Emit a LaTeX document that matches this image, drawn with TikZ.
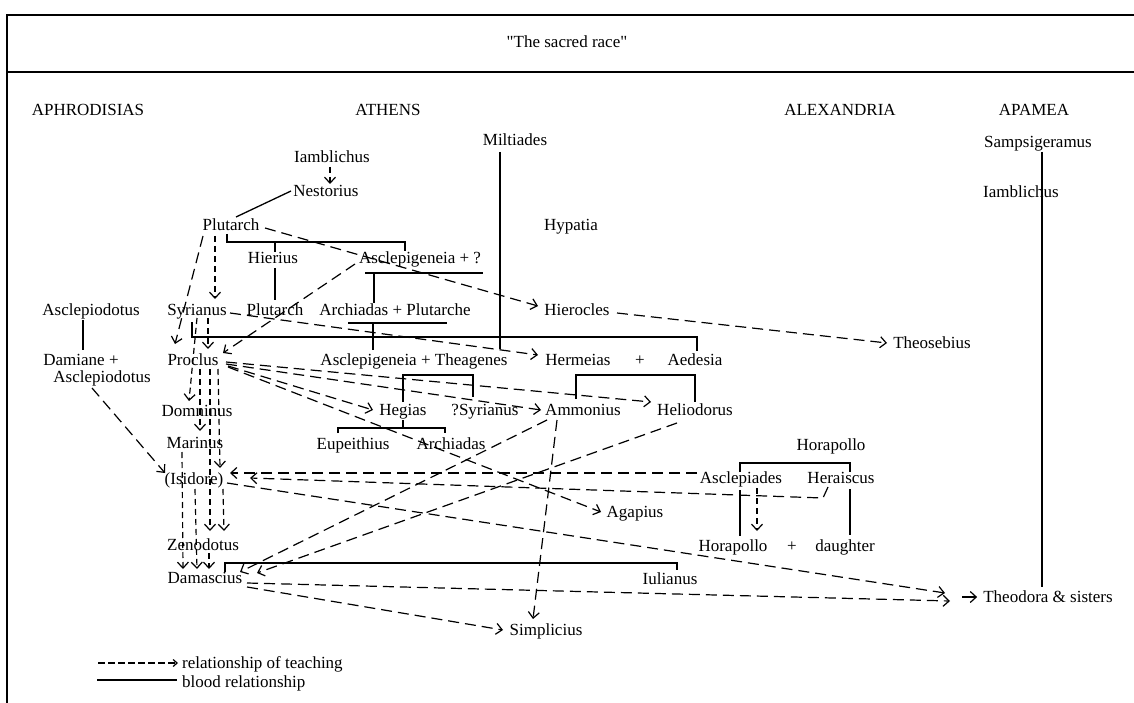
\documentclass[tikz,border=0pt]{standalone}
\usepackage{fontspec}
\setmainfont{Liberation Serif}
\usetikzlibrary{arrows.meta,calc}
\begin{document}
\begin{tikzpicture}[x=1pt,y=-1pt,
  lbl/.style={inner sep=0pt, text height=11.5pt, text depth=0pt, font=\fontsize{17}{20}\selectfont},
  blood/.style={line width=1.3pt},
  teach/.style={line width=1.2pt, dash pattern=on 11pt off 6pt, -{Straight Barb[length=6pt,width=11pt]}},
  teachv/.style={teach, dash pattern=on 6pt off 4pt},
  framel/.style={line width=1.3pt}]
\useasboundingbox (0,0) rectangle (1134,703);
% frame
\draw[framel] (7,703) -- (7,15) -- (1134,15);
\draw[framel] (7,72) -- (1134,72);
\node[lbl] (title) at (567,42) {\textquotedbl The sacred race\textquotedbl};
% headers
\node[lbl] (aphro) at (88,110) {APHRODISIAS};
\node[lbl] (athens) at (388,110) {ATHENS};
\node[lbl] (alex) at (840,110) {ALEXANDRIA};
\node[lbl] (apamea) at (1034,110) {APAMEA};
% nodes
\node[lbl] (miltiades) at (515,140) {Miltiades};
\node[lbl] (sampsi) at (1038,142) {Sampsigeramus};
\node[lbl] (iambB) at (1021,192) {Iamblichus};
\node[lbl] (iambA) at (332,157) {Iamblichus};
\node[lbl] (nestor) at (326,191) {Nestorius};
\node[lbl] (plutA) at (231,225) {Plutarch};
\node[lbl] (hypatia) at (571,225) {Hypatia};
\node[lbl] (hierius) at (273,258) {Hierius};
\node[lbl] (asclq) at (420,258) {Asclepigeneia + ?};
\node[lbl] (syrianus) at (197,310) {Syrianus};
\node[lbl] (plutB) at (275,310) {Plutarch};
\node[lbl] (archiadas) at (395,310) {Archiadas + Plutarche};
\node[lbl] (hierocles) at (577,310) {Hierocles};
\node[lbl] (asclepA) at (91,310) {Asclepiodotus};
\node[lbl] (damiane) at (81,360) {Damiane +};
\node[lbl] (asclepB) at (102,377) {Asclepiodotus};
\node[lbl] (theosebius) at (932,343) {Theosebius};
\node[lbl] (proclus) at (193,360) {Proclus};
\node[lbl] (asclthea) at (414,360) {Asclepigeneia + Theagenes};
\node[lbl] (hermeias) at (578,360) {Hermeias};
\node[lbl] (plusA) at (640,360) {+};
\node[lbl] (aedesia) at (695,360) {Aedesia};
\node[lbl] (domninus) at (197,411) {Domninus};
\node[lbl] (hegias) at (403,410) {Hegias};
\node[lbl] (qsyrianus) at (485,410) {?Syrianus};
\node[lbl] (ammonius) at (583,410) {Ammonius};
\node[lbl] (heliodorus) at (695,410) {Heliodorus};
\node[lbl] (marinus) at (195,443) {Marinus};
\node[lbl] (eupeithius) at (353,444) {Eupeithius};
\node[lbl] (archiadasB) at (451,444) {Archiadas};
\node[lbl] (horapolloA) at (831,445) {Horapollo};
\node[lbl] (isidore) at (194,479) {(Isidore)};
\node[lbl] (asclepiades) at (741,478) {Asclepiades};
\node[lbl] (heraiscus) at (841,478) {Heraiscus};
\node[lbl] (agapius) at (635,512) {Agapius};
\node[lbl] (zenodotus) at (203,545) {Zenodotus};
\node[lbl] (horapolloB) at (733,546) {Horapollo};
\node[lbl] (plusB) at (792,546) {+};
\node[lbl] (daughter) at (845,546) {daughter};
\node[lbl] (damascius) at (205,578) {Damascius};
\node[lbl] (iulianus) at (670,579) {Iulianus};
\node[lbl] (theodora) at (1048,597) {Theodora \& sisters};
\node[lbl] (simplicius) at (546,630) {Simplicius};
\node[lbl,anchor=west] (legteach) at (182,663) {relationship of teaching};
\node[lbl,anchor=west] (legblood) at (182,682) {blood relationship};
% blood relationships
\draw[blood] ($(nestor)+(-35,0)$) -- ($(plutA)+(5,-8)$);
\draw[blood] ($(plutA)+(-4,9)$) -- ++(0,8) -| ($(asclq)+(-15,-7)$);
\draw[blood] ($(hierius)+(2,-6)$) -- ++(0,-10);
\draw[blood] ($(hierius)+(2,10)$) -- ($(plutB)+(0,-10)$);
\draw[blood] ($(asclq)+(-55,15)$) -- ($(asclq)+(63,15)$);
\draw[blood] ($(asclq)+(-46,15)$) -- ($(archiadas)+(-21,-7)$);
\draw[blood] ($(archiadas)+(-47,13)$) -- ($(archiadas)+(52,13)$);
\draw[blood] ($(archiadas)+(-22,13)$) -- ($(asclthea)+(-41,-10)$);
\draw[blood] ($(syrianus)+(-5,12)$) -- ++(0,15) -| ($(aedesia)+(2,-9)$);
\draw[blood] ($(miltiades)+(-15,12)$) -- ($(asclthea)+(86,-11)$);
\draw[blood] ($(hegias)+(0,-8)$) -- ++(0,-27) -| ($(qsyrianus)+(-12,-13)$);
\draw[blood] ($(hegias)+(0,10)$) -- ++(0,8);
\draw[blood] ($(eupeithius)+(-15,-11)$) -- ++(0,-5) -| ($(archiadasB)+(-6,-11)$);
\draw[blood] ($(ammonius)+(-7,-11)$) -- ++(0,-24) -| ($(heliodorus)+(0,-8)$);
\draw[blood] ($(damascius)+(20,-6)$) -- ++(0,-9) -| ($(iulianus)+(7,-9)$);
\draw[blood] ($(asclepiades)+(-1,-6)$) -- ++(0,-9) -| ($(heraiscus)+(9,-6)$);
\draw[blood] ($(asclepiades)+(-1,12)$) -- ($(horapolloB)+(7,-10)$);
\draw[blood] ($(heraiscus)+(9,11)$) -- ($(daughter)+(5,-11)$);
\draw[blood] ($(sampsi)+(4,10)$) -- ($(theodora)+(-6,-10)$);
\draw[blood] ($(asclepA)+(-8,10)$) -- ($(damiane)+(2,-10)$);
% teaching
\draw[teachv] ($(iambA)+(-2,10)$) -- ($(nestor)+(4,-7)$);
\draw[teach] ($(plutA)+(34,3)$) -- ($(hierocles)+(-39,-4)$);
\draw[teach] ($(plutA)+(-28,11)$) -- ($(proclus)+(-18,-16)$);
\draw[teachv] ($(plutA)+(-16,11)$) -- ($(syrianus)+(18,-11)$);
\draw[teach] ($(asclq)+(-65,6)$) -- ($(proclus)+(30,-7)$);
\draw[teachv] ($(syrianus)+(11,8)$) -- ($(proclus)+(15,-11)$);
\draw[teachv] ($(syrianus)+(0,8)$) -- ($(domninus)+(-8,-10)$);
\draw[teach] ($(syrianus)+(33,3)$) -- ($(hermeias)+(-40,-5)$);
\draw[teachv] ($(proclus)+(7,9)$) -- ($(marinus)+(5,-12)$);
\draw[teachv] ($(proclus)+(17,9)$) -- ($(zenodotus)+(7,-14)$);
\draw[teachv] ($(proclus)+(25,9)$) -- ($(isidore)+(26,-11)$);
\draw[teachv] ($(marinus)+(-13,9)$) -- ($(damascius)+(-22,-9)$);
\draw[teachv] ($(isidore)+(1,10)$) -- ($(damascius)+(-8,-9)$);
\draw[teachv] ($(isidore)+(29,10)$) -- ($(zenodotus)+(21,-14)$);
\draw[teachv] ($(zenodotus)+(6,8)$) -- ($(damascius)+(4,-9)$);
\draw[teach] ($(proclus)+(35,6)$) -- ($(hegias)+(-30,0)$);
\draw[teach] ($(proclus)+(33,4)$) -- ($(ammonius)+(-42,0)$);
\draw[teach] ($(proclus)+(33,2)$) -- ($(heliodorus)+(-44,-8)$);
\draw[teach] ($(proclus)+(35,7)$) -- ($(agapius)+(-34,0)$);
\draw[teach] ($(asclepB)+(-10,11)$) -- ($(isidore)+(-29,-6)$);
\draw[teach] ($(asclepiades)+(-44,-5)$) -- ($(isidore)+(36,-6)$);
\draw[teach] ($(heraiscus)+(-13,9)$) -- ++(-5,11) -- ($(isidore)+(56,-1)$);
\draw[teach] ($(isidore)+(33,4)$) -- ($(theodora)+(-103,-4)$);
\draw[teach] ($(damascius)+(42,5)$) -- ($(theodora)+(-98,4)$);
\draw[teach] ($(damascius)+(42,9)$) -- ($(simplicius)+(-43,0)$);
\draw[teach] ($(ammonius)+(-26,10)$) -- ($(simplicius)+(-13,-11)$);
\draw[teach] ($(ammonius)+(-36,10)$) -- ($(damascius)+(35,-6)$);
\draw[teach] ($(heliodorus)+(-18,13)$) -- ($(damascius)+(52,-5)$);
\draw[teachv] ($(asclepiades)+(16,10)$) -- ($(horapolloB)+(24,-15)$);
\draw[teach] ($(hierocles)+(40,3)$) -- ($(theosebius)+(-45,0)$);
\coordinate (theoin) at ($(theodora.west)+(-21,0)$);
\draw[line width=1.2pt,-{Straight Barb[length=6pt,width=11pt]}] (theoin) -- ($(theodora.west)+(-6,0)$);
% legend
\coordinate (legA) at ($(legteach.west)+(-84,0)$);
\coordinate (legB) at ($(legblood.west)+(-85,-2)$);
\draw[line width=1.2pt, dash pattern=on 7pt off 3pt, -{Straight Barb[length=4pt,width=7pt]}] (legA) -- ($(legteach.west)+(-4,0)$);
\draw[blood] (legB) -- ($(legblood.west)+(-5,-2)$);
\end{tikzpicture}
\end{document}
